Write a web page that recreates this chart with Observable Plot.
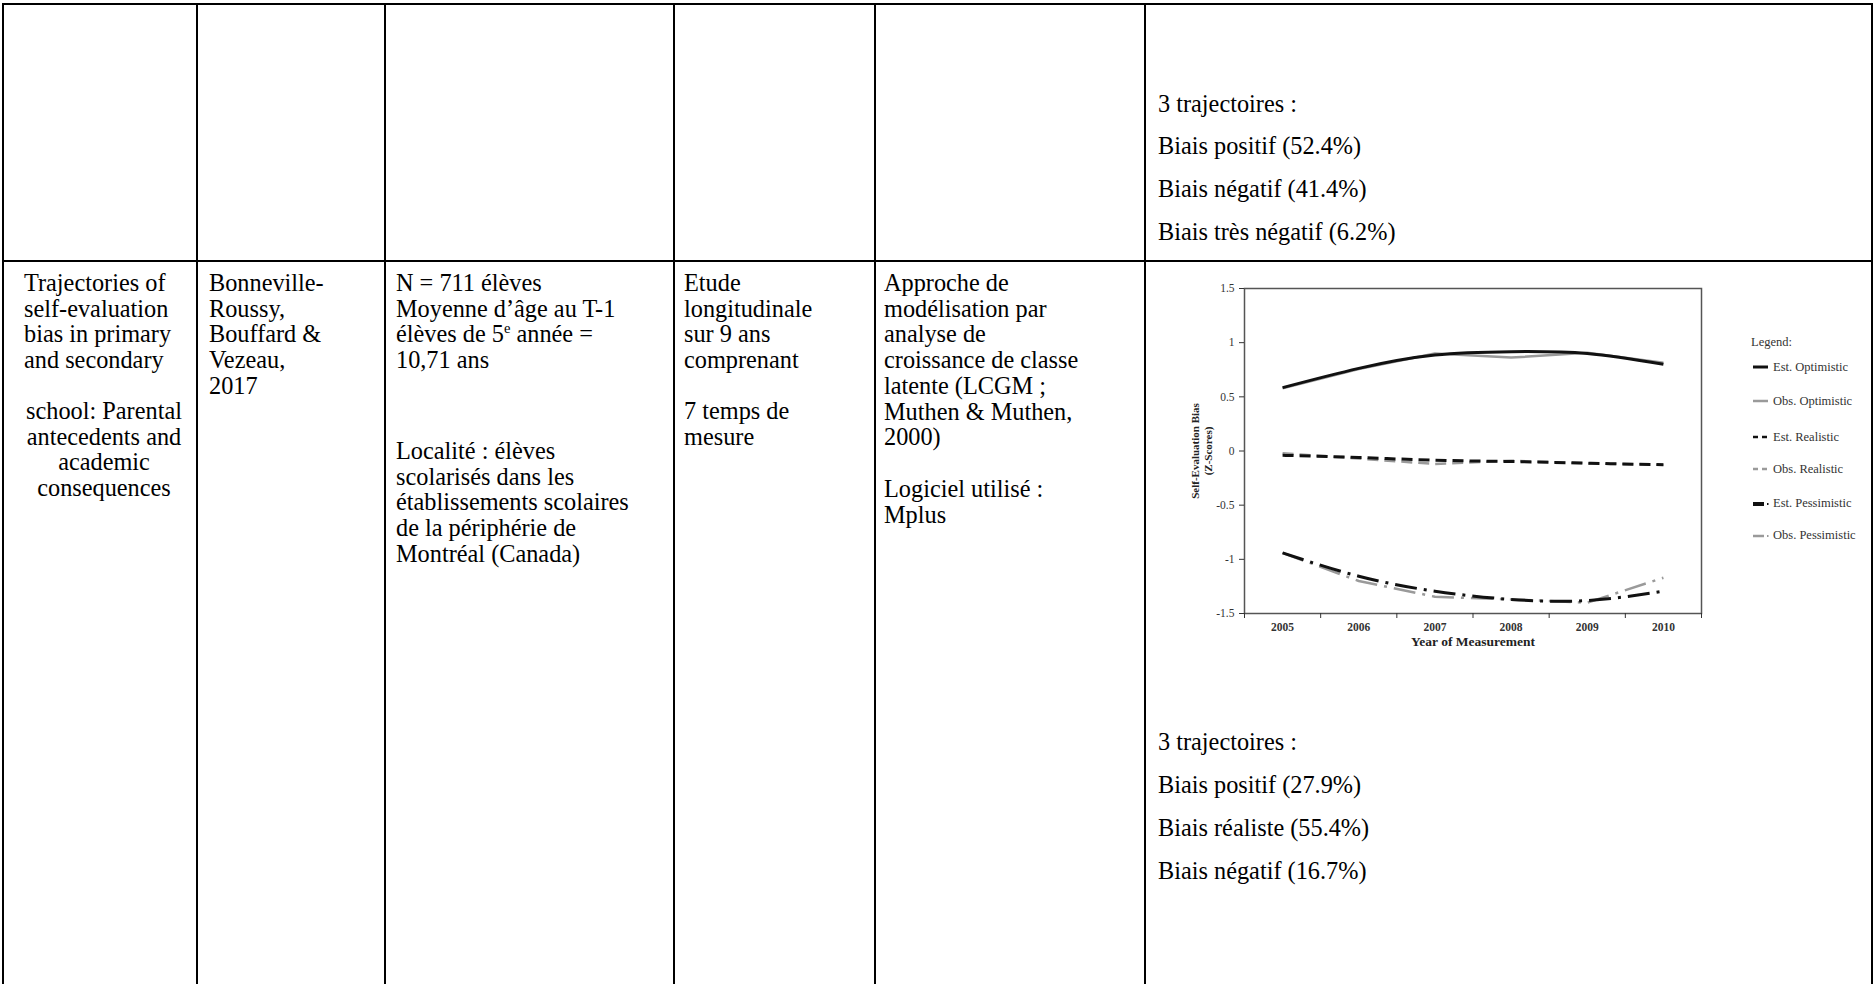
<!DOCTYPE html>
<html>
<head>
<meta charset="utf-8">
<script src="https://cdn.jsdelivr.net/npm/d3@7"></script>
<script src="https://cdn.jsdelivr.net/npm/@observablehq/plot@0.6"></script>
<style>
  html, body { margin: 0; padding: 0; background: #fff; }
  #page { position: relative; width: 1876px; height: 984px; overflow: hidden; background: #fff; }
  .h { position: absolute; height: 2px; background: #000; }
  .v { position: absolute; width: 2px; background: #000; }
  .t { position: absolute; font-family: "Liberation Serif", "Times New Roman", serif; font-size: 24.3px; line-height: 25.7px; color: #000; white-space: nowrap; }
  .c { text-align: center; }
  sup { font-size: 0.6em; line-height: 0; vertical-align: 0.6em; }
  #chart { position: absolute; left: 1150px; top: 275px; }
  #legend { position: absolute; left: 1751px; top: 335px; font-family: "Liberation Serif", serif; font-size: 12.5px; color: #333; }
  #legend .row { position: absolute; white-space: nowrap; display: flex; align-items: center; }
  #legend svg { display: block; margin-right: 3px; }
</style>
</head>
<body>
<div id="page">
  <!-- table rules -->
  <div class="h" style="left:2px; width:1871px; top:3px;"></div>
  <div class="h" style="left:2px; width:1871px; top:260px;"></div>
  <div class="v" style="left:2px; top:3px; height:981px;"></div>
  <div class="v" style="left:196px; top:3px; height:981px;"></div>
  <div class="v" style="left:384px; top:3px; height:981px;"></div>
  <div class="v" style="left:673px; top:3px; height:981px;"></div>
  <div class="v" style="left:874px; top:3px; height:981px;"></div>
  <div class="v" style="left:1144px; top:3px; height:981px;"></div>
  <div class="v" style="left:1871px; top:3px; height:981px;"></div>

  <!-- row 1, last cell -->
  <div class="t" style="left:1158px; top:91px;">3 trajectoires :</div>
  <div class="t" style="left:1158px; top:133px;">Biais positif (52.4%)</div>
  <div class="t" style="left:1158px; top:176px;">Biais négatif (41.4%)</div>
  <div class="t" style="left:1158px; top:219px;">Biais très négatif (6.2%)</div>

  <!-- row 2 -->
  <div class="t" style="left:24px; top:270px;">Trajectories of<br>self-evaluation<br>bias in primary<br>and secondary</div>
  <div class="t c" style="left:4px; width:200px; top:398px;">school: Parental<br>antecedents and<br>academic<br>consequences</div>

  <div class="t" style="left:209px; top:270px;">Bonneville-<br>Roussy,<br>Bouffard &amp;<br>Vezeau,<br>2017</div>

  <div class="t" style="left:396px; top:270px;">N = 711 élèves<br>Moyenne d’âge au T-1<br>élèves de 5<sup>e</sup> année =<br>10,71 ans</div>
  <div class="t" style="left:396px; top:438px;">Localité : élèves<br>scolarisés dans les<br>établissements scolaires<br>de la périphérie de<br>Montréal (Canada)</div>

  <div class="t" style="left:684px; top:270px;">Etude<br>longitudinale<br>sur 9 ans<br>comprenant</div>
  <div class="t" style="left:684px; top:398px;">7 temps de<br>mesure</div>

  <div class="t" style="left:884px; top:270px;">Approche de<br>modélisation par<br>analyse de<br>croissance de classe<br>latente (LCGM ;<br>Muthen &amp; Muthen,<br>2000)</div>
  <div class="t" style="left:884px; top:476px;">Logiciel utilisé :<br>Mplus</div>

  <div class="t" style="left:1158px; top:729px;">3 trajectoires :</div>
  <div class="t" style="left:1158px; top:772px;">Biais positif (27.9%)</div>
  <div class="t" style="left:1158px; top:815px;">Biais réaliste (55.4%)</div>
  <div class="t" style="left:1158px; top:858px;">Biais négatif (16.7%)</div>

  <div id="chart"></div>
  <div id="legend"></div>
</div>

<script>
// ---- data ----
const years = [2005, 2006, 2007, 2008, 2009, 2010];
const yearBoundaries = [2004.5, 2005.5, 2006.5, 2007.5, 2008.5, 2009.5, 2010.5];
const yTicks = [-1.5, -1, -0.5, 0, 0.5, 1, 1.5];

const estOptimistic  = [0.585, 0.763, 0.886, 0.917, 0.900, 0.800];
const obsOptimistic  = [0.580, 0.757, 0.900, 0.862, 0.908, 0.815];
const estRealistic   = [-0.040, -0.060, -0.085, -0.097, -0.112, -0.127];
const obsRealistic   = [-0.020, -0.070, -0.120, -0.090, -0.115, -0.127];
const estPessimistic = [-0.940, -1.156, -1.294, -1.370, -1.380, -1.294];
const obsPessimistic = [-0.940, -1.200, -1.345, -1.370, -1.400, -1.170];

const seriesNames = ["Est. Optimistic", "Obs. Optimistic", "Est. Realistic", "Obs. Realistic", "Est. Pessimistic", "Obs. Pessimistic"];
const seriesValues = [estOptimistic, obsOptimistic, estRealistic, obsRealistic, estPessimistic, obsPessimistic];

// ---- styles (not data) ----
const styles = {
  "Est. Optimistic":  {stroke: "#111", strokeWidth: 3,   dash: null,          curve: "natural"},
  "Obs. Optimistic":  {stroke: "#9a9a9a", strokeWidth: 2.5, dash: null,       curve: "linear"},
  "Est. Realistic":   {stroke: "#111", strokeWidth: 3,   dash: "11,6",        curve: "natural"},
  "Obs. Realistic":   {stroke: "#9a9a9a", strokeWidth: 2.5, dash: "11,6",     curve: "linear"},
  "Est. Pessimistic": {stroke: "#111", strokeWidth: 3,   dash: "22,7,3,7",    curve: "natural"},
  "Obs. Pessimistic": {stroke: "#9a9a9a", strokeWidth: 2.5, dash: "22,7,3,7", curve: "linear"}
};

const drawOrder = ["Obs. Optimistic", "Est. Optimistic", "Obs. Realistic", "Est. Realistic", "Obs. Pessimistic", "Est. Pessimistic"];

const lineMarks = drawOrder.map(name => {
  const vals = seriesValues[seriesNames.indexOf(name)];
  const data = years.map((yr, i) => ({year: yr, value: vals[i]}));
  const s = styles[name];
  return Plot.line(data, {
    x: "year", y: "value",
    stroke: s.stroke, strokeWidth: s.strokeWidth,
    strokeDasharray: s.dash || undefined,
    curve: s.curve, strokeLinecap: "butt"
  });
});

const chart = Plot.plot({
  width: 560,
  height: 380,
  marginLeft: 94,
  marginRight: 9,
  marginTop: 13,
  marginBottom: 42,
  style: {fontFamily: "Liberation Serif, serif", fontSize: "12px", color: "#333", background: "transparent"},
  x: {domain: [2004.5, 2010.5]},
  y: {domain: [-1.5, 1.5]},
  marks: [
    Plot.frame({stroke: "#555", strokeWidth: 1.5}),
    Plot.axisY({ticks: yTicks, tickFormat: d => String(d), tickSize: 5, tickPadding: 5, label: null, fontSize: 11.5}),
    Plot.axisX({ticks: yearBoundaries, tickFormat: () => "", tickSize: 5, label: null}),
    Plot.axisX({ticks: years, tickFormat: d => String(d), tickSize: 0, tickPadding: 9, label: null, fontSize: 11.5, fontWeight: "bold"}),
    Plot.text(["Self-Evaluation Bias"], {frameAnchor: "left", rotate: -90, dx: -49, textAnchor: "middle", lineAnchor: "middle", fontWeight: "bold", fontSize: 11, fill: "#222"}),
    Plot.text(["(Z-Scores)"], {frameAnchor: "left", rotate: -90, dx: -36, textAnchor: "middle", lineAnchor: "middle", fontWeight: "bold", fontSize: 11, fill: "#222"}),
    Plot.text(["Year of Measurement"], {frameAnchor: "bottom", dy: 28, textAnchor: "middle", lineAnchor: "middle", fontWeight: "bold", fontSize: 13.5, fill: "#222"}),
    ...lineMarks
  ]
});
document.getElementById("chart").appendChild(chart);

// ---- legend (HTML, beside the plot) ----
const legend = document.getElementById("legend");
const title = document.createElement("div");
title.className = "row";
title.style.top = "0px";
title.textContent = "Legend:";
legend.appendChild(title);
const rowTops = [25, 59, 95, 127, 161, 193];
seriesNames.forEach((name, i) => {
  const s = styles[name];
  const row = document.createElement("div");
  row.className = "row";
  row.style.top = rowTops[i] + "px";
  row.style.left = "2px";
  let sw;
  if (name.includes("Optimistic")) {
    sw = `<line x1="0" y1="4" x2="15" y2="4" stroke="${s.stroke}" stroke-width="${s.strokeWidth}"/>`;
  } else if (name.includes("Realistic")) {
    sw = `<line x1="0" y1="4" x2="5" y2="4" stroke="${s.stroke}" stroke-width="2.5"/><line x1="9" y1="4" x2="14" y2="4" stroke="${s.stroke}" stroke-width="2.5"/>`;
  } else {
    sw = `<line x1="0" y1="5" x2="11" y2="5" stroke="${s.stroke}" stroke-width="${name.startsWith("Est") ? 4 : 2.5}"/><line x1="14" y1="5" x2="15.5" y2="5" stroke="${s.stroke}" stroke-width="2"/>`;
  }
  row.innerHTML = `<svg width="17" height="9">${sw}</svg><span>${name}</span>`;
  legend.appendChild(row);
});
</script>
</body>
</html>
